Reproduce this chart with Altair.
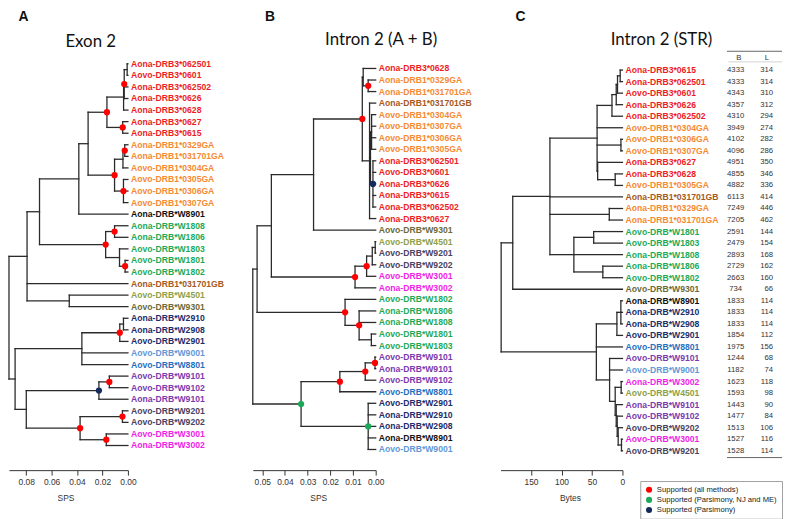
import altair as alt
import pandas as pd

# ------------------------------------------------------------------ data
def N(h, kids, s=None):
    """internal tree node: height, children, bootstrap support class"""
    return {"h": h, "kids": kids, "s": s}

# Panel A: Exon 2 (heights in SPS)
TREE_A = N(0.0975, [
    N(0.0793, [
        N(0.0695, [
            N(0.0386, [
                N(0.0313, [
                    N(0.0165, [
                        N(0.0034, [
                            N(0.0029, [N(0.0006, ["Aona-DRB3*062501", "Aovo-DRB3*0601"]),
                                       "Aona-DRB3*062502", "Aona-DRB3*0626"], "all"),
                            "Aona-DRB3*0628"]),
                        N(0.0041, ["Aona-DRB3*0627", "Aona-DRB3*0615"], "all"),
                    ], "all"),
                    N(0.0105, [
                        N(0.0039, [N(0.0025, ["Aona-DRB1*0329GA", "Aona-DRB1*031701GA"], "all"),
                                   "Aovo-DRB1*0304GA"]),
                        N(0.0035, ["Aovo-DRB1*0305GA", "Aovo-DRB1*0306GA", "Aovo-DRB1*0307GA"], "all"),
                    ], "all"),
                ]),
                "Aona-DRB*W8901",
            ]),
            N(0.0175, [
                N(0.0105, ["Aona-DRB*W1808", "Aona-DRB*W1806"], "all"),
                N(0.0066, ["Aovo-DRB*W1803", N(0.0022, ["Aovo-DRB*W1801", "Aovo-DRB*W1802"], "all")]),
            ], "all"),
        ]),
        "Aona-DRB1*031701GB",
        N(0.0461, ["Aovo-DRB*W4501", "Aovo-DRB*W9301"]),
    ]),
    N(0.0887, [
        N(0.0362, [
            N(0.0064, [N(0.0035, ["Aona-DRB*W2910", "Aona-DRB*W2908"]), "Aovo-DRB*W2901"], "all"),
            "Aovo-DRB*W9001",
            "Aovo-DRB*W8801",
        ]),
        N(0.0799, [
            N(0.0228, [N(0.0146, ["Aovo-DRB*W9101", "Aovo-DRB*W9102"], "all"), "Aona-DRB*W9101"], "pars"),
            N(0.0376, [
                N(0.0043, ["Aovo-DRB*W9201", "Aovo-DRB*W9202"], "all"),
                N(0.0170, ["Aovo-DRB*W3001", "Aona-DRB*W3002"], "all"),
            ], "all"),
        ]),
    ]),
])

# Panel B: Intron 2 (A + B) (heights in SPS)
TREE_B = N(0.0543, [
    N(0.0523, [
        N(0.0460, [
            N(0.0274, [
                N(0.0059, [
                    N(0.0055, ["Aona-DRB3*0628",
                               N(0.0033, ["Aona-DRB1*0329GA", "Aona-DRB1*031701GA"], "all")]),
                    N(0.0027, [
                        "Aona-DRB1*031701GB",
                        N(0.0023, [
                            N(0.0018, ["Aovo-DRB1*0304GA", "Aovo-DRB1*0307GA",
                                       "Aovo-DRB1*0306GA", "Aovo-DRB1*0305GA"]),
                            N(0.0012, ["Aona-DRB3*062501", "Aovo-DRB3*0601", "Aona-DRB3*0626",
                                       "Aona-DRB3*0615", "Aona-DRB3*062502"], "pars"),
                        ]),
                        "Aona-DRB3*0627",
                    ]),
                ], "all"),
                "Aovo-DRB*W9301",
            ]),
            N(0.0091, [
                N(0.0040, [N(0.0015, [N(0.0002, ["Aovo-DRB*W4501", "Aovo-DRB*W9201"]), "Aovo-DRB*W9202"]),
                           "Aovo-DRB*W3001"], "all"),
                "Aona-DRB*W3002",
            ], "all"),
        ]),
        N(0.0135, [
            "Aovo-DRB*W1802",
            N(0.0073, ["Aona-DRB*W1806", "Aona-DRB*W1808",
                       N(0.0019, ["Aovo-DRB*W1801", "Aovo-DRB*W1803"])], "all"),
        ], "all"),
    ]),
    N(0.0329, [
        N(0.0158, [
            N(0.0046, [N(0.0003, ["Aovo-DRB*W9101", "Aona-DRB*W9101"], "all"), "Aovo-DRB*W9102"], "all"),
            "Aovo-DRB*W8801",
        ], "all"),
        N(0.0033, ["Aovo-DRB*W2901", "Aona-DRB*W2910", "Aona-DRB*W2908",
                   "Aona-DRB*W8901", "Aovo-DRB*W9001"], "pnm"),
    ], "pnm"),
])

# Panel C: Intron 2 (STR) (heights in bytes)
TREE_C = N(199, [
    N(180, [
        N(119, [
            N(41.6, [
                N(17.2, [N(10.2, [N(8.1, [N(3.7, ["Aona-DRB3*0615", "Aona-DRB3*062501"]),
                                          "Aovo-DRB3*0601"]), "Aona-DRB3*0626"]), "Aona-DRB3*062502"]),
                "Aovo-DRB1*0304GA",
                N(2.5, ["Aovo-DRB1*0306GA", "Aovo-DRB1*0307GA"]),
                N(40.7, ["Aona-DRB3*0627", N(11.9, ["Aona-DRB3*0628", "Aovo-DRB1*0305GA"])]),
            ]),
            "Aona-DRB1*031701GB",
            N(21.6, ["Aona-DRB1*0329GA", "Aona-DRB1*031701GA"]),
            N(79.7, [
                N(47.2, ["Aovo-DRB*W1801", "Aovo-DRB*W1803"]),
                "Aona-DRB*W1808",
                N(32.2, ["Aona-DRB*W1806", "Aovo-DRB*W1802"]),
            ]),
        ]),
        "Aovo-DRB*W9301",
    ]),
    N(42.8, [
        N(9.1, [N(2.6, ["Aona-DRB*W8901", "Aona-DRB*W2910", "Aona-DRB*W2908"]), "Aovo-DRB*W2901"]),
        "Aovo-DRB*W8801",
        N(21.1, [
            "Aovo-DRB*W9101",
            "Aovo-DRB*W9001",
            N(11.9, [N(2.1, ["Aona-DRB*W3002", "Aovo-DRB*W4501"]),
                     N(10.2, ["Aona-DRB*W9101",
                              N(8.6, ["Aovo-DRB*W9102",
                                      N(7.0, ["Aovo-DRB*W9202",
                                              N(1.6, ["Aovo-DRB*W3001", "Aovo-DRB*W9201"])])])])]),
        ]),
    ]),
])

# table beside panel C (same order as its leaves)
C_BYTES = [4333, 4333, 4343, 4357, 4310, 3949, 4102, 4096, 4951, 4855, 4882, 6113, 7249, 7205,
           2591, 2479, 2893, 2729, 2663, 734, 1833, 1833, 1833, 1854, 1975, 1244, 1182, 1623,
           1593, 1443, 1477, 1513, 1527, 1528]
C_LENGTH = [314, 314, 310, 312, 294, 274, 282, 286, 350, 346, 336, 414, 446, 462,
            144, 154, 168, 162, 160, 66, 114, 114, 114, 112, 156, 68, 74, 118,
            98, 90, 84, 106, 116, 114]

GROUP_COLORS = {
    "DRB3": "#EE1D25", "DRB1": "#F68A33", "DRB1GB": "#A5591D", "W89": "#111111",
    "W18": "#1DAA58", "W45": "#8E9F47", "W93": "#6B6A38", "W29": "#1B2D6A",
    "W90": "#5F98D8", "W88": "#1F70C1", "W91": "#7A3AAE", "W92": "#4A4262",
    "W30": "#F01EE6",
}

SUPPORT_NAMES = {"all": "Supported (all methods)",
                 "pnm": "Supported (Parsimony, NJ and ME)",
                 "pars": "Supported (Parsimony)"}
SUPPORT_COLORS = ["#FF0000", "#1BA85A", "#14295C"]

# ------------------------------------------------------------------ helpers
LINE = "#2b2b2b"
LF = "Liberation Sans"
TF = "Lato"
PLOT_H = 422


def group_of(name):
    suffix = name.split("*")[1]
    if "DRB3" in name:
        return "DRB3"
    if suffix == "031701GB":
        return "DRB1GB"
    if "DRB1" in name:
        return "DRB1"
    return suffix[:3]


def layout(tree):
    leaves, segs, nodes = [], [], []

    def walk(n):
        if isinstance(n, str):
            leaves.append(n)
            return 0.0, float(len(leaves) - 1)
        pts = [walk(k) for k in n["kids"]]
        h = n["h"]
        y = (pts[0][1] + pts[-1][1]) / 2.0
        segs.append({"x": h, "x2": h, "y": pts[0][1], "y2": pts[-1][1]})
        for ch, cy in pts:
            segs.append({"x": h, "x2": ch, "y": cy, "y2": cy})
        if n["s"]:
            nodes.append({"x": h, "y": y, "support": SUPPORT_NAMES[n["s"]]})
        return h, y

    walk(tree)
    leaf_df = pd.DataFrame({"x": 0.0, "y": [float(i) for i in range(len(leaves))],
                            "name": leaves,
                            "hex": [GROUP_COLORS[group_of(n)] for n in leaves]})
    return leaf_df, pd.DataFrame(segs), pd.DataFrame(nodes)


LEGEND = alt.Legend(title=None, orient="none", legendX=637, legendY=433,
                    direction="vertical", fillColor="white", strokeColor="#a0a0a0",
                    padding=5, symbolType="circle", symbolSize=38, symbolStrokeWidth=0,
                    labelFontSize=7.7, labelFont=LF, labelColor="#222",
                    rowPadding=1.2, labelOffset=4, labelLimit=400)


def text_layer(txt, x, y, **kw):
    return alt.Chart(pd.DataFrame({"t": [txt]})).mark_text(**kw).encode(
        text="t:N", x=alt.value(x), y=alt.value(y))


def panel(tree, xdom, ydom, width, ax_values, ax_fmt, ax_title, ax_title_x,
          title, title_x, title_y, letter, letter_x, table=False):
    leaf_df, seg_df, node_df = layout(tree)
    xs = alt.Scale(domain=xdom, clamp=True, nice=False, zero=False)
    ys = alt.Scale(domain=ydom, nice=False, zero=False)
    ax = alt.Axis(values=ax_values, format=ax_fmt, title=ax_title, grid=False,
                  labelFont=LF, labelFontSize=8.5, labelColor="#333", labelPadding=2,
                  titleFont=LF, titleFontSize=8.5, titleFontWeight="normal",
                  titleColor="#333", titlePadding=8, titleX=ax_title_x,
                  tickSize=5, tickColor="#333", domainColor="#333",
                  labelFlush=False)
    X = alt.X("x:Q", scale=xs, axis=ax)
    Y = alt.Y("y:Q", scale=ys, axis=None)
    layers = [alt.Chart(seg_df).mark_rule(color=LINE, strokeWidth=1.3, strokeCap="square")
              .encode(x=X, x2="x2:Q", y=Y, y2="y2:Q")]
    if len(node_df):
        layers.append(alt.Chart(node_df).mark_circle(size=40, opacity=1).encode(
            x=X, y=Y,
            fill=alt.Fill("support:N",
                          scale=alt.Scale(domain=list(SUPPORT_NAMES.values()),
                                          range=SUPPORT_COLORS),
                          legend=LEGEND)))
    layers.append(alt.Chart(leaf_df).mark_text(
        align="left", baseline="middle", dx=3.2, font=LF, fontSize=8.7, fontWeight="bold"
    ).encode(x=X, y=Y, text="name:N", color=alt.Color("hex:N", scale=None)))
    layers.append(text_layer(title, title_x, title_y, font=TF, fontSize=17,
                             align="center", baseline="alphabetic", color="#111"))
    layers.append(text_layer(letter, letter_x, -42, font=LF, fontSize=14, fontWeight="bold",
                             align="left", baseline="top", color="#111"))
    if table:
        tab = leaf_df.copy()
        tab["b"] = [str(v) for v in C_BYTES]
        tab["l"] = [str(v) for v in C_LENGTH]
        layers.append(alt.Chart(tab).mark_text(align="center", baseline="middle", font=LF,
                                               fontSize=7.8, color="#333")
                      .encode(x=alt.value(237.2), y=Y, text="b:N"))
        layers.append(alt.Chart(tab).mark_text(align="right", baseline="middle", font=LF,
                                               fontSize=7.8, color="#333")
                      .encode(x=alt.value(275), y=Y, text="l:N"))
        hdr = pd.DataFrame({"t": ["B"], "y": [-1.08]})
        layers.append(alt.Chart(hdr).mark_text(align="center", baseline="middle", font=LF,
                                               fontSize=7.8, color="#333")
                      .encode(x=alt.value(240.5), y=Y, text="t:N"))
        hdr2 = pd.DataFrame({"t": ["L"], "y": [-1.08]})
        layers.append(alt.Chart(hdr2).mark_text(align="center", baseline="middle", font=LF,
                                                fontSize=7.8, color="#333")
                      .encode(x=alt.value(268.8), y=Y, text="t:N"))
        lines = pd.DataFrame({"y": [-1.63, 33.59]})
        layers.append(alt.Chart(lines).mark_rule(color="#666", strokeWidth=1)
                      .encode(x=alt.value(228.5), x2=alt.value(284), y=Y))
        thin = pd.DataFrame({"y": [-0.71]})
        layers.append(alt.Chart(thin).mark_rule(color="#c8c8c8", strokeWidth=0.8)
                      .encode(x=alt.value(230), x2=alt.value(284), y=Y))
    return alt.layer(*layers).properties(width=width, height=PLOT_H)


pa = panel(TREE_A, [0.0935, 0.0], [35.13, -1.028], 120,
           [0.08, 0.06, 0.04, 0.02, 0.0], ".2f", "SPS", 57,
           "Exon 2", 82.5, -5, "A", 9.5)
pb = panel(TREE_B, [0.0542, 0.0], [34.79, -1.433], 124,
           [0.05, 0.04, 0.03, 0.02, 0.01, 0.0], ".2f", "SPS", 66,
           "Intron 2 (A + B)", 129.5, -6.5, "B", 12.2)
pc = panel(TREE_C, [200, 0], [34.68, -1.573], 123,
           [150, 100, 50, 0], "d", "Bytes", 70,
           "Intron 2 (STR)", 162.4, -7.3, "C", 15.2, table=True)

chart = (alt.hconcat(pa, pb, pc, spacing=126, bounds="flush")
         .resolve_scale(fill="shared")
         .resolve_legend(fill="shared")
         .properties(padding=0, background="white")
         .configure_view(stroke=None))

chart.save("out.html", embed_options={"renderer": "svg", "actions": False})
